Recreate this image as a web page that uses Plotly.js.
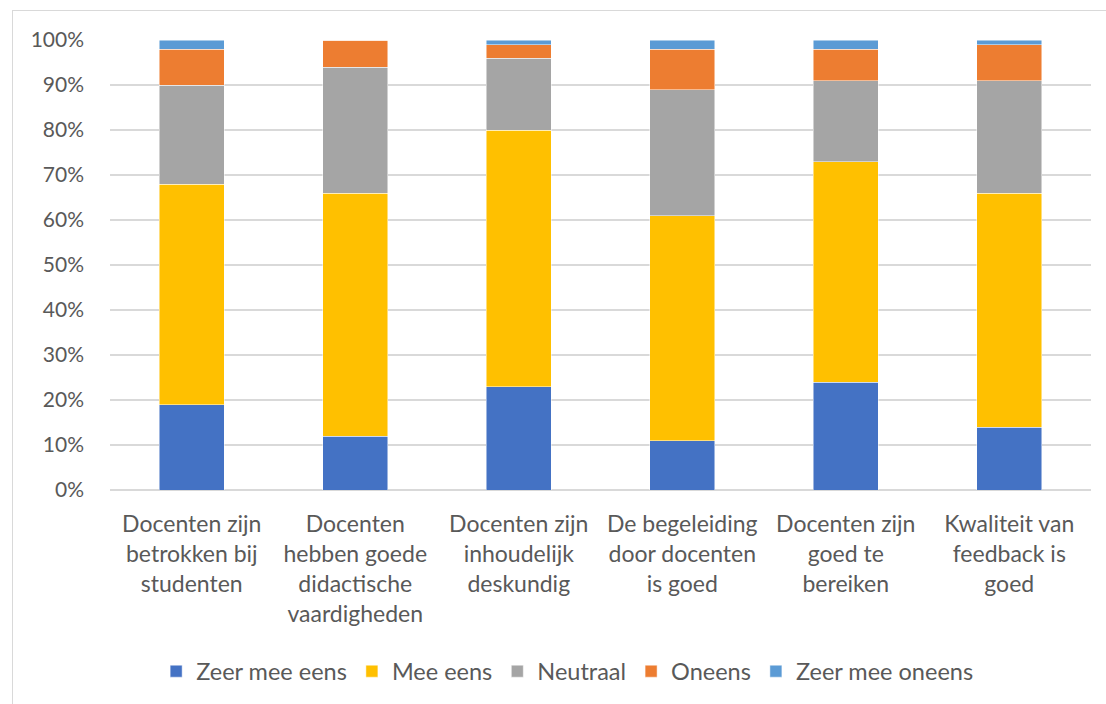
<!DOCTYPE html>
<html>
<head>
<meta charset="utf-8">
<script src="https://cdn.plot.ly/plotly-3.0.1.min.js"></script>
<style>
html,body{margin:0;padding:0;background:#fff;}
#wrap{position:relative;width:1106px;height:704px;overflow:hidden;}
#chart{width:1106px;height:704px;}
#frame{position:absolute;left:12px;top:10px;width:1110px;height:720px;border:1px solid #d9d9d9;pointer-events:none;}
</style>
</head>
<body>
<div id="wrap"><div id="chart"></div><div id="frame"></div></div>
<script>
const categories = [
  "Docenten zijn<br>betrokken bij<br>studenten",
  "Docenten<br>hebben goede<br>didactische<br>vaardigheden",
  "Docenten zijn<br>inhoudelijk<br>deskundig",
  "De begeleiding<br>door docenten<br>is goed",
  "Docenten zijn<br>goed te<br>bereiken",
  "Kwaliteit van<br>feedback is<br>goed"
];
const seriesNames = ["Zeer mee eens", "Mee eens", "Neutraal", "Oneens", "Zeer mee oneens"];
const zeerMeeEens   = [0.19, 0.12, 0.23, 0.11, 0.24, 0.14];
const meeEens       = [0.49, 0.54, 0.57, 0.50, 0.49, 0.52];
const neutraal      = [0.22, 0.28, 0.16, 0.28, 0.18, 0.25];
const oneens        = [0.08, 0.06, 0.03, 0.09, 0.07, 0.08];
const zeerMeeOneens = [0.02, 0.00, 0.01, 0.02, 0.02, 0.01];
const colors = ["#4472C4", "#FFC000", "#A5A5A5", "#ED7D31", "#5B9BD5"];

const values = [zeerMeeEens, meeEens, neutraal, oneens, zeerMeeOneens];
const traces = values.map((v, i) => ({
  type: "bar",
  name: seriesNames[i],
  x: categories,
  y: v,
  marker: {color: colors[i], line: {color: "rgba(255,255,255,0.6)", width: 0.8}},
  hoverinfo: "none"
}));

const fam = "Lato, 'Open Sans', sans-serif";
const font = {family: fam, size: 20, color: "#595959"};
const layout = {
  width: 1106, height: 704,
  margin: {l: 110, r: 15, t: 40, b: 213},
  barmode: "stack",
  bargap: 0.6,
  paper_bgcolor: "#fff",
  plot_bgcolor: "#fff",
  font: font,
  showlegend: true,
  legend: {
    orientation: "h", x: 0.466, xanchor: "center", y: -0.4, yanchor: "middle",
    font: {family: fam, size: 23.5, color: "#595959"}, traceorder: "normal", itemwidth: 30
  },
  xaxis: {
    tickfont: {family: fam, size: 23, color: "#595959"}, showgrid: false, zeroline: false, showline: false,
    ticks: "", ticklabelstandoff: 18, automargin: false, tickangle: 0
  },
  yaxis: {
    range: [0, 1], dtick: 0.1, tickformat: ".0%", tickfont: {family: fam, size: 21, color: "#595959"},
    showgrid: true, gridcolor: "#d9d9d9", gridwidth: 1.5,
    zeroline: true, zerolinecolor: "#d9d9d9", zerolinewidth: 1.5,
    showline: false, ticks: "", ticklabelstandoff: 25, automargin: false
  }
};
Plotly.newPlot("chart", traces, layout, {staticPlot: true, displayModeBar: false});
</script>
</body>
</html>
